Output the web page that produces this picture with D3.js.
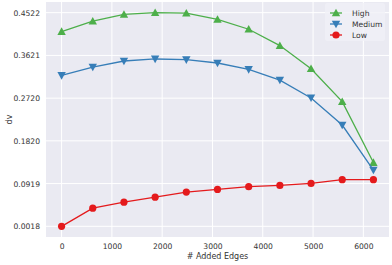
<!DOCTYPE html>
<html>
<head>
<meta charset="utf-8">
<script src="https://cdn.jsdelivr.net/npm/d3@7"></script>
<style>
  body { margin: 0; background: #fff; }
  text { font-family: "DejaVu Sans", sans-serif; }
</style>
</head>
<body>
<div id="chart"></div>
<script>
// data
const edges = [0, 620, 1240, 1860, 2480, 3100, 3720, 4340, 4960, 5580, 6200];
const high = [0.4124, 0.4343, 0.4485, 0.4522, 0.4512, 0.4379, 0.4173, 0.3828, 0.3340, 0.2647, 0.1362];
const medium = [0.3198, 0.3376, 0.3503, 0.3546, 0.3531, 0.3461, 0.3325, 0.3100, 0.2725, 0.2153, 0.1205];
const low = [0.0018, 0.0400, 0.0527, 0.0633, 0.0739, 0.0796, 0.0853, 0.0881, 0.0923, 0.1002, 0.1002];
const xTicks = [0, 1000, 2000, 3000, 4000, 5000, 6000];
const yTicks = [0.0018, 0.0919, 0.1820, 0.2720, 0.3621, 0.4522];
const seriesNames = ["High", "Medium", "Low"];

const W = 392, H = 265;
const margin = {top: 2, right: 3, bottom: 28, left: 46},
    width = W - margin.left - margin.right,
    height = H - margin.top - margin.bottom;

const series = [
  {name: seriesNames[0], values: high, color: "#4daf4a", shape: "up"},
  {name: seriesNames[1], values: medium, color: "#377eb8", shape: "down"},
  {name: seriesNames[2], values: low, color: "#e41a1c", shape: "circle"}
];

const svg = d3.select("#chart").append("svg")
    .attr("width", W).attr("height", H);
const g = svg.append("g")
    .attr("transform", "translate(" + margin.left + "," + margin.top + ")");

const xPad = (d3.max(edges) - d3.min(edges)) * 0.05;
const x = d3.scaleLinear()
    .domain([d3.min(edges) - xPad, d3.max(edges) + xPad])
    .range([0, width]);
const yMin = d3.min(low), yMax = d3.max(high);
const yPad = (yMax - yMin) * 0.05;
const y = d3.scaleLinear()
    .domain([yMin - yPad, yMax + yPad])
    .range([height, 0]);

g.append("rect").attr("width", width).attr("height", height).attr("fill", "#eaeaf2");

// grid
g.append("g").selectAll("line").data(xTicks).join("line")
    .attr("x1", d => x(d)).attr("x2", d => x(d))
    .attr("y1", 0).attr("y2", height)
    .attr("stroke", "#fff").attr("stroke-width", 1);
g.append("g").selectAll("line").data(yTicks).join("line")
    .attr("y1", d => y(d)).attr("y2", d => y(d))
    .attr("x1", 0).attr("x2", width)
    .attr("stroke", "#fff").attr("stroke-width", 1);

// axes
const xAxis = g.append("g")
    .attr("transform", "translate(0," + height + ")")
    .call(d3.axisBottom(x).tickValues(xTicks).tickFormat(d3.format("d")).tickSize(0).tickPadding(7));
const yAxis = g.append("g")
    .call(d3.axisLeft(y).tickValues(yTicks).tickFormat(d3.format(".4f")).tickSize(0).tickPadding(6));
[xAxis, yAxis].forEach(a => {
  a.select(".domain").remove();
  a.selectAll("text").attr("fill", "#333").style("font-size", "7.6px")
    .style("font-family", "DejaVu Sans, sans-serif");
});

svg.append("text")
    .attr("x", margin.left + width / 2).attr("y", H - 6)
    .attr("text-anchor", "middle").attr("fill", "#333")
    .style("font-size", "8px").text("# Added Edges");
svg.append("text")
    .attr("transform", "translate(12," + (margin.top + height / 2) + ") rotate(-90)")
    .attr("text-anchor", "middle").attr("fill", "#333")
    .style("font-size", "8px").text("dv");

function marker(sel, shape, color) {
  if (shape === "circle") {
    sel.append("circle").attr("r", 3.6).attr("fill", color);
  } else {
    const s = 4.2;
    const pts = shape === "up"
      ? [[0, -s], [s, s * 0.8], [-s, s * 0.8]]
      : [[0, s], [s, -s * 0.8], [-s, -s * 0.8]];
    sel.append("path").attr("d", d3.line()(pts) + "Z").attr("fill", color);
  }
}

const line = d3.line().x((d, i) => x(edges[i])).y(d => y(d));

series.forEach(s => {
  g.append("path").datum(s.values)
    .attr("d", line).attr("fill", "none")
    .attr("stroke", s.color).attr("stroke-width", 1.3);
  g.append("g").selectAll("g").data(s.values).join("g")
    .attr("transform", (d, i) => "translate(" + x(edges[i]) + "," + y(d) + ")")
    .each(function () { marker(d3.select(this), s.shape, s.color); });
});

// legend
const lg = svg.append("g").attr("transform", "translate(325,3)");
lg.append("rect").attr("width", 60).attr("height", 38).attr("rx", 2)
    .attr("fill", "#f0f0f6").attr("opacity", 0.8);
series.forEach((s, i) => {
  const row = lg.append("g").attr("transform", "translate(0," + (10 + i * 11) + ")");
  row.append("line").attr("x1", 5).attr("x2", 17).attr("stroke", s.color).attr("stroke-width", 1.3);
  const m = row.append("g").attr("transform", "translate(11,0)");
  marker(m, s.shape, s.color);
  row.append("text").attr("x", 27).attr("y", 3).attr("fill", "#333")
    .style("font-size", "7.6px").text(s.name);
});
</script>
</body>
</html>
